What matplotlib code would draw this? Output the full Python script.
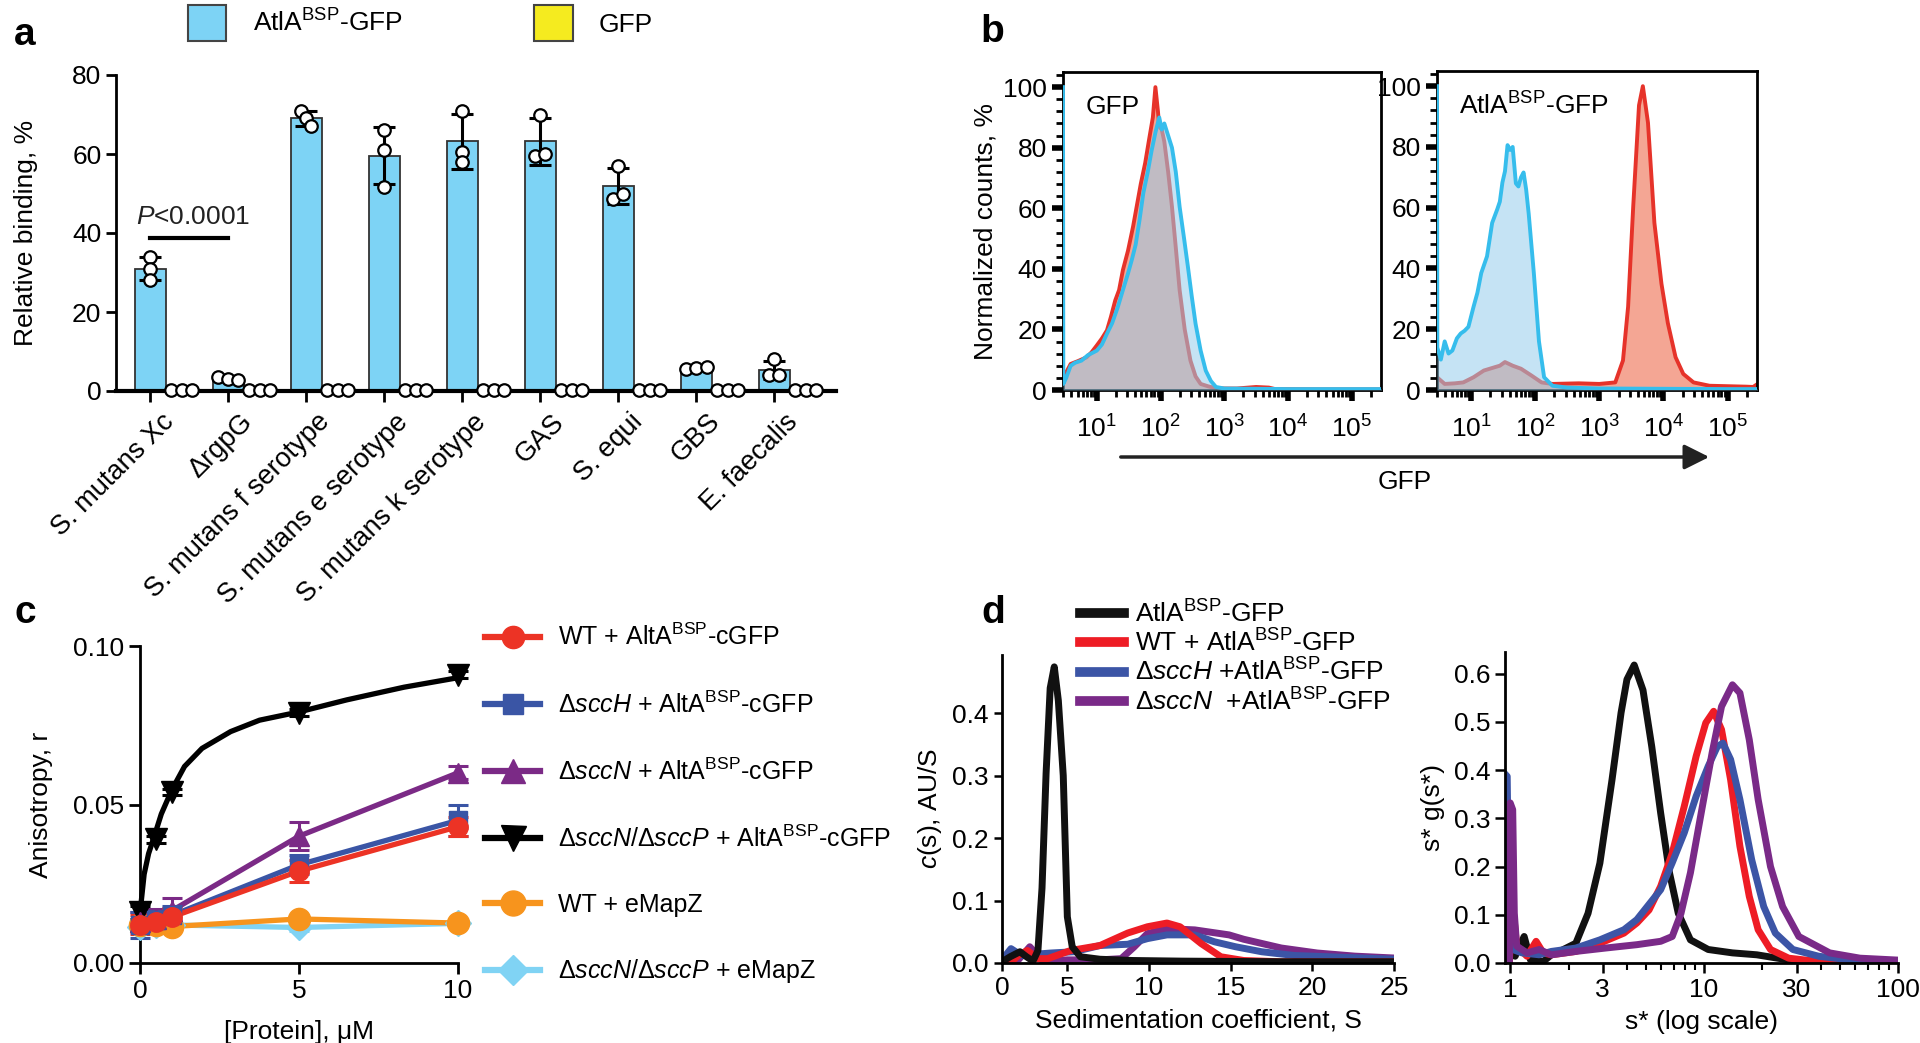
import numpy as np
import matplotlib
matplotlib.use('Agg')
import matplotlib.pyplot as plt
from matplotlib.patches import Patch, FancyArrowPatch
from matplotlib.lines import Line2D
from matplotlib.transforms import ScaledTranslation, blended_transform_factory
from matplotlib.ticker import (MultipleLocator, FixedLocator, NullFormatter, LogLocator,
                               FormatStrFormatter, FixedFormatter)

plt.rcParams['font.family'] = ['Liberation Sans', 'DejaVu Sans']
plt.rcParams['mathtext.fontset'] = 'custom'
plt.rcParams['mathtext.rm'] = 'Liberation Sans'
plt.rcParams['mathtext.it'] = 'Liberation Sans:italic'
plt.rcParams['mathtext.bf'] = 'Liberation Sans:bold'
plt.rcParams['axes.linewidth'] = 2

# ---------------- Panel a data ----------------
a_categories = ['S. mutans Xc', 'ΔrgpG', 'S. mutans f serotype', 'S. mutans e serotype',
                'S. mutans k serotype', 'GAS', 'S. equi', 'GBS', 'E. faecalis']
a_atla_reps = [[34.0, 31.0, 28.0], [3.6, 3.0, 2.9], [71.0, 69.0, 67.0], [66.0, 61.0, 51.7],
               [71.0, 60.5, 58.0], [70.0, 59.5, 60.0], [57.0, 48.5, 50.0], [5.5, 5.8, 6.2],
               [8.0, 4.0, 4.0]]
a_gfp_reps = [[0.3, 0.2, 0.3], [0.2, 0.3, 0.2], [0.2, 0.2, 0.2], [0.2, 0.2, 0.2], [0.2, 0.2, 0.2],
              [0.3, 0.2, 0.3], [0.2, 0.2, 0.2], [0.3, 0.2, 0.3], [0.2, 0.2, 0.2]]
a_pvalue_text = r'$\it{P}$<0.0001'
a_pvalue_y = 38.8

# ---------------- Panel b data (log10 of GFP intensity, normalized counts %) ----------------
b_gfp_red_lx = [0.47, 0.55, 0.59, 0.70, 0.84, 0.92, 1.00, 1.08, 1.16, 1.22, 1.29, 1.35, 1.41, 1.49,
                1.57, 1.63, 1.69, 1.76, 1.82, 1.88, 1.92, 1.96, 1.98, 2.02, 2.06, 2.12, 2.18, 2.24,
                2.30, 2.38, 2.47, 2.55, 2.63, 2.75, 2.87, 3.0, 3.2, 3.5, 3.7, 3.8, 4.5, 5.47]
b_gfp_red_y = [4.0, 7.0, 8.6, 9.5, 10.8, 12.5, 14.7, 17.0, 19.7, 24.0, 29.6, 33.0, 39.6, 46.0,
               54.0, 61.0, 68.0, 75.0, 82.6, 90.0, 100.0, 92.0, 87.0, 86.0, 82.0, 72.0, 60.5, 47.0,
               33.0, 20.0, 9.7, 4.5, 2.0, 1.2, 0.6, 0.5, 0.5, 1.0, 0.8, 0.3, 0.2, 0.2]
b_gfp_blue_lx = [0.47, 0.475, 0.52, 0.59, 0.66, 0.76, 0.86, 1.00, 1.08, 1.16, 1.24, 1.33, 1.41, 1.49,
                 1.55, 1.61, 1.67, 1.73, 1.80, 1.86, 1.92, 1.98, 2.02, 2.06, 2.12, 2.18, 2.24, 2.30,
                 2.37, 2.43, 2.49, 2.55, 2.63, 2.71, 2.79, 2.87, 3.0, 3.5, 4.0, 5.0, 5.47]
b_gfp_blue_y = [100.0, 2.0, 4.0, 8.0, 9.0, 9.7, 11.5, 13.0, 15.0, 18.6, 22.0, 27.4, 33.0, 38.5,
                43.0, 48.0, 56.0, 65.0, 72.0, 79.0, 85.0, 90.0, 86.0, 88.0, 84.0, 80.0, 72.0, 60.5,
                50.0, 40.7, 31.0, 21.9, 13.0, 6.4, 3.0, 1.0, 0.5, 0.4, 0.3, 0.3, 0.3]
b_atla_red_lx = [0.47, 0.59, 0.75, 0.88, 1.04, 1.20, 1.37, 1.45, 1.53, 1.60, 1.65, 1.78, 1.94,
                 2.10, 2.27, 2.68, 3.0, 3.25, 3.37, 3.45, 3.53, 3.62, 3.68, 3.76, 3.86, 3.97, 4.07,
                 4.19, 4.31, 4.47, 4.72, 5.29, 5.40, 5.47]
b_atla_red_y = [4.2, 2.0, 2.2, 2.5, 4.2, 6.4, 7.5, 8.0, 9.2, 8.5, 8.0, 7.0, 4.8,
                2.5, 2.0, 2.2, 2.0, 2.5, 9.7, 27.4, 60.5, 93.7, 100.0, 88.0, 55.0, 35.0, 22.0,
                10.8, 5.3, 2.5, 1.4, 1.1, 1.0, 2.0]
b_atla_blue_lx = [0.47, 0.475, 0.53, 0.59, 0.65, 0.71, 0.78, 0.84, 0.90, 0.96, 1.04, 1.10, 1.16,
                  1.25, 1.33, 1.41, 1.45, 1.49, 1.53, 1.57, 1.61, 1.65, 1.70, 1.74, 1.78, 1.82,
                  1.86, 1.90, 1.98, 2.06, 2.14, 2.27, 2.5, 3.0, 4.0, 5.0, 5.47]
b_atla_blue_y = [100.0, 14.0, 10.0, 16.0, 12.0, 13.0, 17.0, 18.6, 19.5, 20.8, 27.4, 32.0, 38.5,
                 44.0, 55.0, 59.5, 62.0, 68.3, 72.0, 80.6, 79.0, 80.0, 68.0, 67.0, 70.0, 71.6,
                 66.0, 58.0, 38.5, 16.0, 4.2, 1.4, 0.8, 0.5, 0.4, 0.3, 0.3]

# ---------------- Panel c data ----------------
c_conc = [0, 0.5, 1, 5, 10]
c_wt_atla = [0.012, 0.013, 0.0145, 0.029, 0.043]
c_wt_atla_sd = [0.003, 0.003, 0.003, 0.0035, 0.003]
c_scch_atla = [0.012, 0.0135, 0.015, 0.031, 0.045]
c_scch_atla_sd = [0.004, 0.003, 0.003, 0.003, 0.005]
c_sccn_atla = [0.013, 0.014, 0.0165, 0.040, 0.060]
c_sccn_atla_sd = [0.003, 0.003, 0.004, 0.0045, 0.002]
c_sccnp_atla = [0.016, 0.039, 0.054, 0.079, 0.091]
c_sccnp_atla_sd = [0.002, 0.001, 0.001, 0.001, 0.001]
c_wt_emapz = [0.012, 0.012, 0.0115, 0.0139, 0.0126]
c_wt_emapz_sd = [0.001, 0.001, 0.001, 0.001, 0.001]
c_sccnp_emapz = [0.0115, 0.012, 0.012, 0.0112, 0.0125]
c_sccnp_emapz_sd = [0.001, 0.001, 0.001, 0.001, 0.001]
c_fit_x = [0, 0.13, 0.27, 0.45, 0.67, 1.0, 1.4, 1.95, 2.85, 3.76, 5.0, 6.5, 8.3, 10.0]
c_fit_sccnp = [0.0157, 0.028, 0.0345, 0.040, 0.047, 0.0546, 0.062, 0.0677, 0.073, 0.0766,
               0.0792, 0.083, 0.087, 0.090]
c_labels = [r'WT + AltA$^{\rm BSP}$-cGFP', r'Δ$\it{sccH}$ + AltA$^{\rm BSP}$-cGFP',
            r'Δ$\it{sccN}$ + AltA$^{\rm BSP}$-cGFP', r'Δ$\it{sccN}$/Δ$\it{sccP}$ + AltA$^{\rm BSP}$-cGFP',
            'WT + eMapZ', r'Δ$\it{sccN}$/Δ$\it{sccP}$ + eMapZ']

# ---------------- Panel d data ----------------
d_cs_black_s = [1.0, 1.5, 2.1, 2.5, 2.9, 3.2, 3.45, 3.7, 3.95, 4.2, 4.45, 4.75, 5.0, 5.3, 5.8,
                7.0, 9.0, 12.0, 18.0, 25.0]
d_cs_black = [0.002, 0.010, 0.018, 0.010, 0.003, 0.020, 0.120, 0.304, 0.440, 0.474, 0.420, 0.300,
              0.074, 0.026, 0.010, 0.006, 0.004, 0.003, 0.002, 0.002]
d_cs_red_s = [1.5, 2.0, 2.55, 3.2, 3.8, 5.2, 7.0, 8.7, 9.9, 11.1, 11.9, 13.2, 14.4, 15.8, 18.0, 25.0]
d_cs_red = [0.0, 0.012, 0.020, 0.007, 0.007, 0.020, 0.028, 0.048, 0.058, 0.064, 0.058, 0.031,
            0.010, 0.004, 0.002, 0.002]
d_cs_blue_s = [1.0, 1.55, 2.2, 3.0, 4.0, 5.4, 7.0, 8.7, 9.9, 11.1, 12.8, 14.0, 15.3, 16.9, 18.9,
               21.0, 25.0]
d_cs_blue = [0.005, 0.023, 0.012, 0.014, 0.016, 0.018, 0.028, 0.030, 0.039, 0.045, 0.045, 0.034,
             0.026, 0.018, 0.012, 0.010, 0.006]
d_cs_purple_s = [1.0, 2.0, 2.7, 3.5, 5.0, 7.0, 8.3, 9.1, 9.9, 11.1, 12.8, 14.9, 15.8, 18.1, 20.3,
                 22.6, 25.0]
d_cs_purple = [0.0, 0.005, 0.026, 0.003, 0.005, 0.005, 0.007, 0.026, 0.047, 0.055, 0.053, 0.045,
               0.038, 0.024, 0.016, 0.011, 0.008]

d_g_black_s = [0.99, 1.02, 1.06, 1.18, 1.27, 1.48, 1.63, 1.88, 2.18, 2.52, 2.90, 3.35, 3.73, 4.0,
               4.36, 4.84, 5.37, 5.97, 6.63, 7.36, 8.5, 10.5, 14.0, 18.7, 26.6, 38.0, 100.0]
d_g_black = [0.0, 0.100, 0.014, 0.055, 0.007, 0.003, 0.017, 0.028, 0.041, 0.103, 0.207, 0.380,
             0.519, 0.588, 0.618, 0.566, 0.449, 0.311, 0.187, 0.103, 0.048, 0.028, 0.021, 0.017,
             0.007, 0.003, 0.001]
d_g_red_s = [0.99, 1.02, 1.08, 1.22, 1.36, 1.48, 1.63, 2.18, 2.90, 3.86, 4.5, 5.2, 5.97, 6.85,
             7.9, 9.1, 10.2, 11.2, 12.3, 13.7, 15.3, 17.1, 19.0, 22.0, 27.3, 39.0, 100.0]
d_g_red = [0.0, 0.138, 0.035, 0.014, 0.045, 0.021, 0.017, 0.024, 0.041, 0.062, 0.083, 0.110,
           0.159, 0.228, 0.325, 0.429, 0.498, 0.522, 0.484, 0.380, 0.242, 0.138, 0.069, 0.028,
           0.010, 0.003, 0.001]
d_g_blue_s = [0.95, 0.965, 0.985, 1.03, 1.15, 1.41, 1.63, 2.18, 2.90, 3.86, 4.5, 5.97, 6.85, 7.9,
              9.1, 10.5, 11.7, 12.5, 13.7, 15.3, 17.6, 20.3, 23.3, 28.7, 39.0, 55.0, 100.0]
d_g_blue = [0.39, 0.387, 0.103, 0.028, 0.021, 0.017, 0.024, 0.031, 0.048, 0.069, 0.090, 0.152,
            0.208, 0.270, 0.346, 0.408, 0.449, 0.456, 0.422, 0.339, 0.214, 0.117, 0.062, 0.028,
            0.014, 0.007, 0.003]
d_g_purple_s = [0.99, 1.0, 1.03, 1.05, 1.08, 1.22, 1.41, 1.63, 2.18, 3.1, 4.5, 5.97, 6.85, 7.6,
                8.5, 9.8, 11.0, 12.3, 14.0, 15.3, 17.1, 19.0, 22.0, 25.4, 30.8, 44.4, 63.7, 100.0]
d_g_purple = [0.0, 0.332, 0.318, 0.103, 0.035, 0.021, 0.028, 0.017, 0.024, 0.031, 0.038, 0.045,
              0.055, 0.103, 0.187, 0.325, 0.436, 0.532, 0.577, 0.560, 0.463, 0.339, 0.200, 0.117,
              0.055, 0.021, 0.010, 0.006]
d_labels = [r'AtlA$^{\rm BSP}$-GFP', r'WT + AtlA$^{\rm BSP}$-GFP', r'Δ$\it{sccH}$ +AtlA$^{\rm BSP}$-GFP',
            r'Δ$\it{sccN}$  +AtlA$^{\rm BSP}$-GFP']

# ---------------- Styles ----------------
W, H = 1920, 1043
fig = plt.figure(figsize=(W / 100, H / 100), dpi=100)


def axes_px(x0, y0, x1, y1):
    return fig.add_axes([x0 / W, 1 - y1 / H, (x1 - x0) / W, (y1 - y0) / H])


FS = 18
BLUE_BAR = '#7dd3f5'
YELLOW = '#f5eb1f'

# ================= Panel a =================
axa = axes_px(116, 75, 836, 391)
gx = np.arange(len(a_categories))
bw = 0.4
atla_mean = np.array([np.mean(r) for r in a_atla_reps])
atla_sd = np.array([np.std(r, ddof=1) for r in a_atla_reps])
gfp_mean = np.array([np.mean(r) for r in a_gfp_reps])
gfp_sd = np.array([np.std(r, ddof=1) for r in a_gfp_reps])
axa.bar(gx - 0.2, atla_mean, bw, color=BLUE_BAR, edgecolor='#333333', linewidth=1.3, zorder=2)
axa.bar(gx + 0.2, gfp_mean, bw, color=YELLOW, edgecolor='#333333', linewidth=1.0, zorder=2)
axa.errorbar(gx - 0.2, atla_mean, yerr=atla_sd, fmt='none', ecolor='black', elinewidth=2.2,
             capsize=8, capthick=2.2, zorder=3)
axa.errorbar(gx + 0.2, gfp_mean, yerr=gfp_sd, fmt='none', ecolor='black', elinewidth=2.0,
             capsize=5, capthick=2.0, zorder=3)


def spread(vals, tol):
    vals = np.asarray(vals, float)
    offs = np.zeros(len(vals))
    for i, v in enumerate(vals):
        close = [j for j in range(len(vals)) if abs(vals[j] - v) < tol]
        if len(close) > 1:
            k = close.index(i)
            offs[i] = (k - (len(close) - 1) / 2) * 0.13
    return offs


for i in range(len(gx)):
    o = spread(a_atla_reps[i], 2.2)
    axa.plot(gx[i] - 0.2 + o, a_atla_reps[i], 'o', ms=9, mfc='white', mec='black', mew=1.6,
             zorder=4, clip_on=False)
    axa.plot(gx[i] + 0.2 + np.array([-0.14, 0.0, 0.14]), a_gfp_reps[i], 'o', ms=9, mfc='white',
             mec='black', mew=1.6, zorder=4, clip_on=False)

axa.plot([gx[0] - 0.2, gx[1] - 0.2], [a_pvalue_y, a_pvalue_y], color='black', lw=3)
axa.text(0.35, 41.0, a_pvalue_text, ha='center', va='bottom', fontsize=FS + 1, color='#222222')
axa.set_xlim(-0.64, 8.59)
axa.set_ylim(0, 80)
axa.set_yticks([0, 20, 40, 60, 80])
axa.set_xticks(gx - 0.2)
axa.set_xticklabels([''] * len(gx))
lbl_tr = blended_transform_factory(axa.transData, axa.transAxes) + \
    ScaledTranslation(0.20, -0.27, fig.dpi_scale_trans)
for xi, lab in zip(gx - 0.2, a_categories):
    axa.text(xi, 0, lab, transform=lbl_tr, rotation=45, ha='right', va='center',
             rotation_mode='anchor', fontsize=FS + 1.5)
axa.spines['top'].set_visible(False)
axa.spines['right'].set_visible(False)
axa.spines['bottom'].set_linewidth(3)
axa.tick_params(axis='y', labelsize=FS + 1, length=7, width=2)
axa.tick_params(axis='x', length=8, width=2, pad=2)
axa.set_ylabel('Relative binding, %', fontsize=FS + 1)
axa.yaxis.set_label_coords(-0.108, 0.5)

fig.legend(handles=[Patch(facecolor=BLUE_BAR, edgecolor='#444444', linewidth=1.5,
                          label=r'AtlA$^{\rm BSP}$-GFP'),
                    Patch(facecolor=YELLOW, edgecolor='#444444', linewidth=1.5, label='GFP')],
           loc='center left', bbox_to_anchor=(188 / W, 1 - 23 / H), ncol=2, frameon=False,
           handlelength=1.45, handleheight=1.75, handletextpad=1.0, columnspacing=5.0,
           fontsize=FS + 1, borderpad=0, borderaxespad=0)

# ================= Panel b =================
RED = '#e6332a'
LBLUE = '#36bdec'
SALMON = '#f4a694'
FILLB = '#96cdeb'


def flow_panel(ax, red_lx, red_y, blue_lx, blue_y, title):
    rx = 10 ** np.array(red_lx)
    bx = 10 ** np.array(blue_lx)
    ax.fill_between(rx, 0, red_y, color=SALMON, lw=0, zorder=1)
    ax.plot(rx, red_y, color=RED, lw=2.8, zorder=2)
    ax.fill_between(bx, 0, blue_y, color=FILLB, alpha=0.55, lw=0, zorder=3)
    ax.plot(bx, blue_y, color=LBLUE, lw=2.8, zorder=4)
    ax.set_xscale('log')
    ax.set_xlim(10 ** 0.47, 10 ** 5.46)
    ax.set_ylim(0, 105)
    ax.set_yticks([0, 20, 40, 60, 80, 100])
    ax.yaxis.set_minor_locator(MultipleLocator(4))
    ax.xaxis.set_major_locator(FixedLocator([10, 100, 1000, 1e4, 1e5]))
    ax.xaxis.set_minor_locator(LogLocator(base=10, subs=np.arange(2, 10), numticks=20))
    ax.xaxis.set_minor_formatter(NullFormatter())
    ax.tick_params(axis='both', which='major', labelsize=FS + 1, length=8, width=4, direction='out')
    ax.tick_params(axis='both', which='minor', length=5, width=2)
    ax.tick_params(axis='x', which='major', pad=10)
    for s in ax.spines.values():
        s.set_linewidth(2)
    ax.text(0.07, 0.89, title, transform=ax.transAxes, fontsize=FS + 1, ha='left', va='center')


axb1 = axes_px(1063, 72, 1381, 390)
flow_panel(axb1, b_gfp_red_lx, b_gfp_red_y, b_gfp_blue_lx, b_gfp_blue_y, 'GFP')
axb1.set_ylabel('Normalized counts, %', fontsize=FS + 1, labelpad=4)
axb2 = axes_px(1437, 71, 1757, 390)
flow_panel(axb2, b_atla_red_lx, b_atla_red_y, b_atla_blue_lx, b_atla_blue_y, r'AtlA$^{\rm BSP}$-GFP')

fig.add_artist(FancyArrowPatch((1118 / W, 1 - 457 / H), (1712 / W, 1 - 457 / H),
                               transform=fig.transFigure, arrowstyle='-|>',
                               mutation_scale=38, lw=2.5, color='#222222'))
fig.text(1405 / W, 1 - 482 / H, 'GFP', ha='center', va='center', fontsize=FS + 1)

# ================= Panel c =================
axc = axes_px(140, 646, 458, 963)
c_series = [
    (c_sccnp_emapz, c_sccnp_emapz_sd, '#80d3f4', 'D', 13),
    (c_wt_emapz, c_wt_emapz_sd, '#f7941d', 'o', 16),
    (c_sccnp_atla, c_sccnp_atla_sd, '#000000', 'v', 16),
    (c_sccn_atla, c_sccn_atla_sd, '#7b2a86', '^', 15),
    (c_scch_atla, c_scch_atla_sd, '#3a55a5', 's', 13),
    (c_wt_atla, c_wt_atla_sd, '#ec3325', 'o', 14),
]
for vals, sd, col, mk, ms in c_series:
    if col == '#000000':
        axc.plot(c_fit_x, c_fit_sccnp, color=col, lw=3.8, zorder=3, clip_on=False)
    else:
        axc.plot(c_conc, vals, color=col, lw=3.8, zorder=3, clip_on=False)
    axc.errorbar(c_conc, vals, yerr=sd, fmt=mk, color=col, ms=ms, mec=col, elinewidth=2.2,
                 capsize=7, capthick=2.2, zorder=4, clip_on=False)
axc.set_xlim(0, 10)
axc.set_ylim(0, 0.1)
axc.set_xticks([0, 5, 10])
axc.set_yticks([0.0, 0.05, 0.10])
axc.yaxis.set_major_formatter(FormatStrFormatter('%.2f'))
axc.spines['top'].set_visible(False)
axc.spines['right'].set_visible(False)
axc.tick_params(axis='both', labelsize=FS + 1, length=8, width=2)
axc.set_xlabel('[Protein], μM', fontsize=FS + 1, labelpad=12)
axc.set_ylabel('Anisotropy, r', fontsize=FS + 1, labelpad=14)

c_handles = []
order = [5, 4, 3, 2, 1, 0]
for idx in order:
    vals, sd, col, mk, ms = c_series[idx]
    c_handles.append(Line2D([], [], color=col, lw=4.5, marker=mk, ms=ms + 2, mec=col))
fig.legend(handles=c_handles, labels=c_labels, loc='upper left', bbox_to_anchor=(485 / W, 1 - 624 / H),
           frameon=False, fontsize=FS, handlelength=2.2, handletextpad=0.7, labelspacing=1.63,
           borderpad=0, borderaxespad=0)

# ================= Panel d =================
D_COLS = ['#111111', '#ee1c25', '#3c55a6', '#7a2a88']
axd1 = axes_px(1002, 655, 1394, 963)
for sx, sy, col in [(d_cs_purple_s, d_cs_purple, D_COLS[3]), (d_cs_blue_s, d_cs_blue, D_COLS[2]),
                    (d_cs_red_s, d_cs_red, D_COLS[1]), (d_cs_black_s, d_cs_black, D_COLS[0])]:
    axd1.plot(sx, sy, color=col, lw=5, solid_joinstyle='round', solid_capstyle='round')
axd1.set_xlim(1.0, 25)
axd1.set_ylim(0, 0.493)
axd1.set_xticks([1.0, 5, 10, 15, 20, 25])
axd1.set_xticklabels(['0', '5', '10', '15', '20', '25'])
axd1.set_yticks([0.0, 0.1, 0.2, 0.3, 0.4])
axd1.yaxis.set_major_formatter(FormatStrFormatter('%.1f'))
axd1.spines['top'].set_visible(False)
axd1.spines['right'].set_visible(False)
axd1.tick_params(axis='both', labelsize=FS + 1, length=6, width=1.8)
axd1.set_xlabel('Sedimentation coefficient, S', fontsize=FS + 1, labelpad=6)
axd1.set_ylabel(r'$\it{c}$(s), AU/S', fontsize=FS + 1, labelpad=6)

axd2 = axes_px(1505, 652, 1898, 963)
for sx, sy, col in [(d_g_black_s, d_g_black, D_COLS[0]), (d_g_red_s, d_g_red, D_COLS[1]),
                    (d_g_blue_s, d_g_blue, D_COLS[2]), (d_g_purple_s, d_g_purple, D_COLS[3])]:
    axd2.plot(sx, sy, color=col, lw=5, solid_joinstyle='round')
axd2.set_xscale('log')
axd2.set_xlim(0.94, 100)
axd2.set_ylim(0, 0.645)
axd2.xaxis.set_major_locator(FixedLocator([1, 3, 10, 30, 100]))
axd2.xaxis.set_major_formatter(FixedFormatter(['1', '3', '10', '30', '100']))
axd2.xaxis.set_minor_locator(FixedLocator([2, 4, 5, 6, 7, 8, 9, 20, 40, 50, 60, 70, 80, 90]))
axd2.xaxis.set_minor_formatter(NullFormatter())
axd2.set_yticks([0.0, 0.1, 0.2, 0.3, 0.4, 0.5, 0.6])
axd2.yaxis.set_major_formatter(FormatStrFormatter('%.1f'))
axd2.spines['top'].set_visible(False)
axd2.spines['right'].set_visible(False)
axd2.tick_params(axis='both', which='major', labelsize=FS + 1, length=7, width=1.8)
axd2.tick_params(axis='x', which='minor', length=5, width=1.5)
axd2.set_xlabel('s* (log scale)', fontsize=FS + 1, labelpad=6)
axd2.set_ylabel('s* g(s*)', fontsize=FS + 1, labelpad=6)

d_handles = [Line2D([], [], color=c, lw=7) for c in D_COLS]
fig.legend(handles=d_handles, labels=d_labels, loc='upper left', bbox_to_anchor=(1080 / W, 1 - 600 / H),
           frameon=False, fontsize=FS + 1, handlelength=1.65, handletextpad=0.45, labelspacing=0.08,
           borderpad=0, borderaxespad=0)

# ================= Panel letters =================
for lab, (px, py) in {'a': (14, 35), 'b': (980, 32), 'c': (14, 613), 'd': (981, 613)}.items():
    fig.text(px / W, 1 - py / H, lab, fontsize=28, fontweight='bold', ha='left', va='center')

fig.savefig('out.png', dpi=100)
